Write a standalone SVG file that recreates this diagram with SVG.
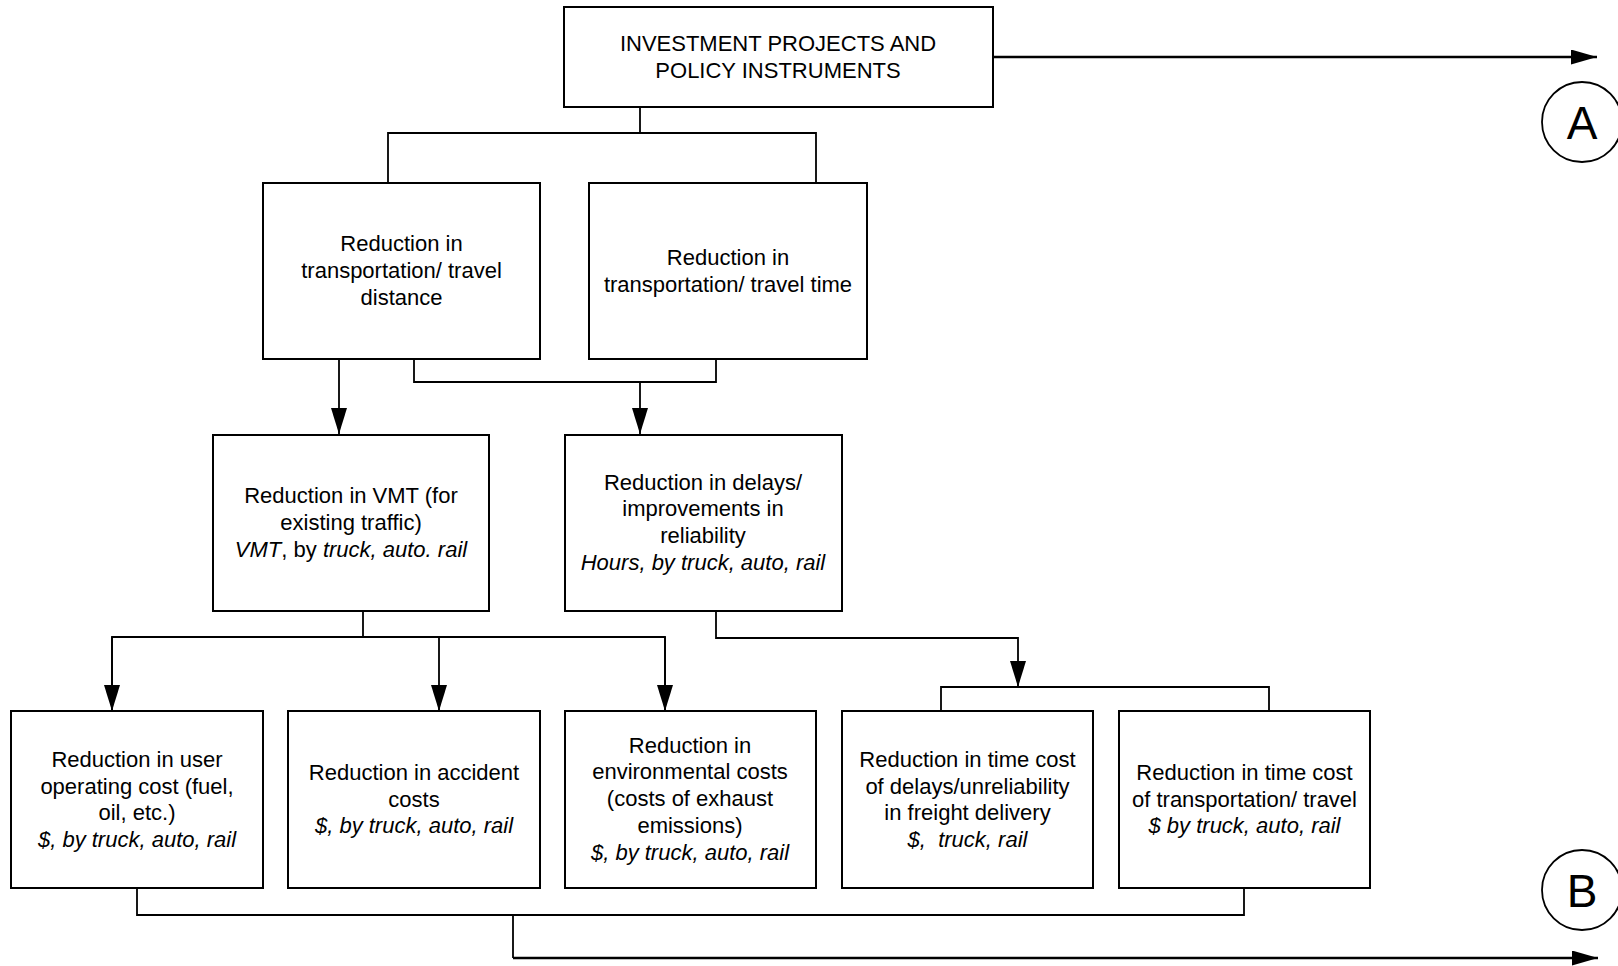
<svg xmlns="http://www.w3.org/2000/svg" width="1618" height="966" viewBox="0 0 1618 966">
<style>
.box{fill:#fff;stroke:#000;stroke-width:2}
.t{font-family:"Liberation Sans",Arial,sans-serif;font-size:22px;fill:#000;text-anchor:middle}
.i{font-style:italic}
.c{fill:none;stroke:#000;stroke-width:1.8}
.ca{fill:none;stroke:#000;stroke-width:2.4}
.lbl{font-family:"Liberation Sans",Arial,sans-serif;font-size:46px;fill:#000;text-anchor:middle}
</style>
<defs>
<marker id="ah" markerUnits="userSpaceOnUse" markerWidth="26" markerHeight="16" refX="26" refY="8" orient="auto" viewBox="0 0 26 16">
<path d="M0,0 L26,8 L0,16 z" fill="#000"/>
</marker>
<marker id="ah2" markerUnits="userSpaceOnUse" markerWidth="26" markerHeight="15" refX="26" refY="7.5" orient="auto" viewBox="0 0 26 15">
<path d="M0,0 L26,7.5 L0,15 z" fill="#000"/>
</marker>
</defs>
<rect width="1618" height="966" fill="#fff"/>

<g id="connectors">
<path class="c" d="M640,107 V133 M388,183 V133 H816 V183"/>
<path class="c" d="M339,359 V434" marker-end="url(#ah)"/>
<path class="c" d="M414,359 V382 H716 V359"/>
<path class="c" d="M640,382 V434" marker-end="url(#ah)"/>
<path class="c" d="M363,611 V637 M112,711 V637 H665 V711"/>
<path class="c" d="M112,637 V711" marker-end="url(#ah)"/>
<path class="c" d="M439,637 V711" marker-end="url(#ah)"/>
<path class="c" d="M665,637 V711" marker-end="url(#ah)"/>
<path class="c" d="M716,611 V638 H1018 V687" marker-end="url(#ah)"/>
<path class="c" d="M941,711 V687 H1269 V711"/>
<path class="c" d="M137,887 V915 H1244 V887"/>
<path class="c" d="M513,915 V958"/>
<path class="ca" d="M513,958 H1598" marker-end="url(#ah2)"/>
<path class="ca" d="M993,57 H1597" marker-end="url(#ah2)"/>
</g>

<g id="top">
<rect class="box" x="564" y="7" width="429" height="100"/>
<text class="t" x="778" y="51">INVESTMENT PROJECTS AND</text>
<text class="t" x="778" y="78">POLICY INSTRUMENTS</text>
</g>

<g id="distance">
<rect class="box" x="263" y="183" width="277" height="176"/>
<text class="t" x="401.5" y="251">Reduction in</text>
<text class="t" x="401.5" y="278">transportation/ travel</text>
<text class="t" x="401.5" y="305">distance</text>
</g>

<g id="time">
<rect class="box" x="589" y="183" width="278" height="176"/>
<text class="t" x="728" y="265">Reduction in</text>
<text class="t" x="728" y="292">transportation/ travel time</text>
</g>

<g id="vmt">
<rect class="box" x="213" y="435" width="276" height="176"/>
<text class="t" x="351" y="503">Reduction in VMT (for</text>
<text class="t" x="351" y="530">existing traffic)</text>
<text class="t" x="351" y="557"><tspan class="i">VMT</tspan>, by <tspan class="i">truck, auto. rail</tspan></text>
</g>

<g id="delays">
<rect class="box" x="565" y="435" width="277" height="176"/>
<text class="t" x="703" y="489.5">Reduction in delays/</text>
<text class="t" x="703" y="516.3">improvements in</text>
<text class="t" x="703" y="543.1">reliability</text>
<text class="t i" x="703" y="570">Hours, by truck, auto, rail</text>
</g>

<g id="operating">
<rect class="box" x="11" y="711" width="252" height="177"/>
<text class="t" x="137" y="767">Reduction in user</text>
<text class="t" x="137" y="793.8">operating cost (fuel,</text>
<text class="t" x="137" y="820.4">oil, etc.)</text>
<text class="t i" x="137" y="847">$, by truck, auto, rail</text>
</g>

<g id="accident">
<rect class="box" x="288" y="711" width="252" height="177"/>
<text class="t" x="414" y="780">Reduction in accident</text>
<text class="t" x="414" y="806.5">costs</text>
<text class="t i" x="414" y="833">$, by truck, auto, rail</text>
</g>

<g id="environmental">
<rect class="box" x="565" y="711" width="251" height="177"/>
<text class="t" x="690" y="752.5">Reduction in</text>
<text class="t" x="690" y="779.3">environmental costs</text>
<text class="t" x="690" y="806">(costs of exhaust</text>
<text class="t" x="690" y="832.8">emissions)</text>
<text class="t i" x="690" y="859.6">$, by truck, auto, rail</text>
</g>

<g id="freight">
<rect class="box" x="842" y="711" width="251" height="177"/>
<text class="t" x="967.5" y="767">Reduction in time cost</text>
<text class="t" x="967.5" y="793.8">of delays/unreliability</text>
<text class="t" x="967.5" y="820.4">in freight delivery</text>
<text class="t i" x="967.5" y="847" xml:space="preserve">$,  truck, rail</text>
</g>

<g id="traveltime">
<rect class="box" x="1119" y="711" width="251" height="177"/>
<text class="t" x="1244.5" y="780">Reduction in time cost</text>
<text class="t" x="1244.5" y="806.5">of transportation/ travel</text>
<text class="t i" x="1244.5" y="833">$ by truck, auto, rail</text>
</g>

<g id="connA">
<circle cx="1582" cy="122" r="40" fill="#fff" stroke="#000" stroke-width="1.8"/>
<text class="lbl" x="1582" y="139">A</text>
</g>

<g id="connB">
<circle cx="1582" cy="890" r="40" fill="#fff" stroke="#000" stroke-width="1.8"/>
<text class="lbl" x="1582" y="907">B</text>
</g>
</svg>
